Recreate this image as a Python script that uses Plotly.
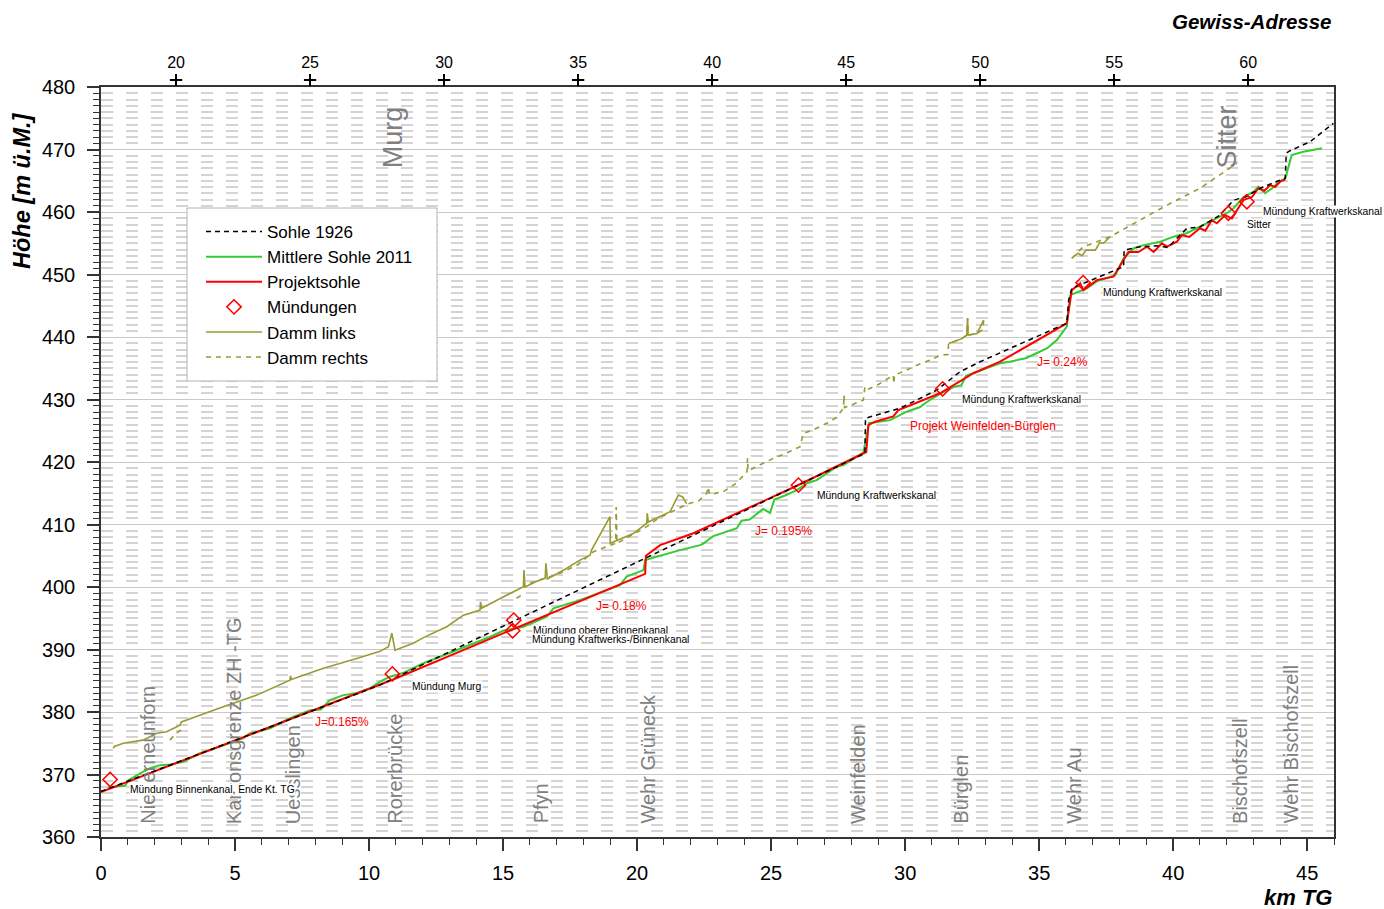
import plotly.graph_objects as go

# ---------------- data (km TG, m ü.M.) ----------------
sohle_1926_km = [0.0, 10.4, 28.5, 28.52, 29.81, 31.18, 32.05, 32.8, 36.03, 36.1, 36.22, 37.28,
                 38.15, 38.17, 38.77, 39.5, 39.8, 40.5, 41.0, 41.75, 42.25, 42.7, 43.25, 43.99,
                 44.18, 44.22, 44.36, 45.11, 45.98]
sohle_1926_h = [367.3, 384.3, 421.4, 427.0, 428.6, 431.5, 434.45, 436.05, 442.2, 445.9, 447.8, 449.65,
                451.25, 453.9, 454.45, 454.6, 454.3, 457.35, 457.6, 459.5, 461.9, 462.4, 463.8, 465.1,
                465.4, 469.4, 469.8, 471.25, 474.2]

sohle_2011_km = [0.25, 0.52, 0.9, 1.02, 1.58, 1.83, 2.2, 2.6, 3.07, 3.69, 4.2, 4.56, 4.94, 5.3, 5.56,
                 5.9, 6.31, 7.05, 7.5, 7.8, 8.2, 8.54, 9.04, 9.54, 10.04, 10.41, 10.78, 11.3, 12.03,
                 13.27, 14.51, 15.0, 15.76, 16.63, 16.88, 17.87, 19.36, 19.61, 20.24, 20.3, 20.73,
                 21.6, 22.35, 22.47, 22.85, 23.72, 23.9, 24.2, 24.7, 24.96, 25.12, 25.5, 25.96, 26.34,
                 26.7, 27.45, 27.7, 28.44, 28.65, 29.44, 30.06, 30.56, 30.81, 31.3, 31.8, 32.1, 32.27,
                 33.05, 33.54, 33.9, 34.5, 34.9, 35.3, 35.66, 36.03, 36.16, 36.34, 36.78, 37.15, 37.84,
                 38.15, 38.53, 38.9, 39.52, 40.01, 40.5, 41.0, 41.5, 42.0, 42.25, 42.62, 43.0, 43.18,
                 43.43, 43.74, 43.93, 44.18, 44.42, 44.85, 45.55]
sohle_2011_h = [367.85, 368.05, 368.2, 369.1, 370.45, 371.0, 371.5, 371.6, 372.05, 373.4, 374.1, 374.7,
                375.25, 375.8, 376.6, 376.9, 377.4, 379.0, 379.8, 380.3, 380.4, 381.9, 382.7, 383.0,
                383.8, 384.85, 385.65, 386.3, 387.8, 389.9, 392.0, 393.0, 393.65, 395.25, 396.6, 397.9,
                400.3, 401.65, 402.7, 404.3, 404.85, 405.9, 406.7, 406.95, 408.15, 409.4, 410.6, 410.8,
                412.5, 411.85, 414.0, 414.6, 415.5, 416.6, 417.1, 419.25, 419.5, 421.5, 426.2, 426.7,
                428.05, 428.8, 429.6, 430.9, 432.0, 432.3, 433.8, 435.0, 435.8, 436.05, 436.6, 437.4,
                438.2, 439.5, 441.65, 446.7, 447.0, 447.8, 448.9, 449.9, 452.6, 454.2, 454.7, 455.25,
                456.05, 456.6, 457.65, 458.7, 459.8, 460.6, 462.4, 463.25, 464.05, 463.0, 463.95,
                464.85, 465.3, 469.1, 469.65, 470.2]

projekt_km = [0.0, 10.9, 20.3, 20.33, 20.86, 22.1, 25.96, 28.55, 28.63, 28.88, 29.56, 29.75, 31.3,
              32.55, 33.54, 36.03, 36.22, 36.53, 36.65, 37.15, 37.77, 38.15, 38.33, 38.7, 39.02,
              39.27, 39.58, 39.77, 40.14, 40.33, 40.6, 41.0, 41.2, 41.44, 41.63, 41.94, 42.19, 42.38,
              42.62, 42.94, 43.18, 43.4, 43.62, 43.8, 43.99, 44.18]
projekt_h = [367.2, 385.2, 402.1, 405.0, 406.7, 408.6, 416.2, 421.6, 425.9, 426.45, 427.3, 428.3, 431.0,
             434.2, 436.05, 442.2, 447.5, 448.6, 447.5, 449.1, 449.65, 452.3, 453.6, 453.6, 454.45,
             453.6, 455.0, 454.45, 455.25, 456.3, 456.0, 457.4, 457.0, 458.7, 458.2, 459.5, 458.95,
             460.3, 461.9, 462.4, 463.8, 463.4, 464.3, 464.0, 464.85, 465.2]

muendung_km = [0.34, 10.87, 15.4, 15.36, 26.02, 31.4, 36.64, 42.06, 42.75]
muendung_h = [369.2, 386.1, 394.7, 393.0, 416.3, 431.7, 448.7, 459.8, 461.65]

damm_links_km = [0.46, 0.5, 0.83, 1.57, 2.08, 2.45, 2.95, 3.0, 4.56, 5.81, 7.05, 7.07, 7.1, 8.3, 9.54,
                 10.41, 10.72, 10.85, 10.97, 11.65, 12.03, 12.9, 13.52, 14.14, 14.16, 14.2, 15.0,
                 15.39, 15.76, 15.78, 15.82, 16.2, 16.57, 16.6, 16.65, 17.3, 17.87, 18.25, 18.3, 18.99,
                 19.0, 19.86, 20.36, 20.38, 20.42, 21.23, 21.54, 21.7, 21.85,
                 None, 31.62, 32.1, 32.3, 32.33, 32.35, 32.68, 32.93,
                 None, 36.22, 36.45, 36.6, 36.75, 37.1, 37.25, 37.4, 37.65]
damm_links_h = [374.2, 374.5, 375.0, 375.5, 376.6, 376.85, 377.9, 378.4, 380.85, 382.7, 385.1, 385.8,
                385.2, 387.0, 388.55, 389.7, 390.45, 392.6, 389.9, 391.0, 391.9, 393.65, 395.5, 396.3,
                397.6, 396.6, 398.4, 399.25, 400.05, 402.7, 400.0, 400.8, 401.4, 403.8, 401.3, 402.8,
                404.3, 405.1, 405.9, 411.25, 407.0, 408.55, 410.2, 411.8, 410.4, 412.05, 414.7, 414.4,
                413.35,
                None, 438.95, 439.7, 440.3, 443.0, 440.3, 440.55, 442.7,
                None, 452.6, 453.4, 453.0, 453.9, 453.9, 455.1, 455.0, 456.05]

damm_rechts_km = [2.57, 2.8, 2.95, 3.01,
                  None, 15.5, 15.8,
                  None, 16.0, 17.13, 17.8, 18.37, 19.2, 19.22, 19.25, 20.36, 20.8, 21.9, 22.3, 22.6,
                  22.65, 22.7, 23.22, 23.7, 24.1, 24.12, 24.14, 24.6, 25.09, 25.5, 26.08, 26.2, 26.6,
                  27.08, 27.4, 27.7, 27.72, 27.74, 28.1, 28.44, 28.5, 28.6, 29.0, 29.56, 29.58, 29.6,
                  30.0, 30.44, 31.0, 31.31, 31.6, 31.62, 32.1, 32.3, 32.33, 32.35, 32.68, 32.9, 32.93,
                  None, 36.22, 36.65, 37.65, 38.53, 39.77, 41.0, 42.38]
damm_rechts_h = [375.5, 376.6, 377.0, 377.65,
                 None, 398.2, 399.0,
                 None, 400.6, 402.2, 403.6, 405.65, 407.0, 412.8, 407.0, 409.65, 411.0, 413.3, 413.8,
                 415.0, 416.0, 414.8, 415.25, 416.6, 418.45, 420.6, 418.6, 419.6, 420.6, 421.3, 422.45,
                 424.55, 425.2, 426.2, 427.0, 428.6, 430.7, 428.7, 429.3, 429.9, 432.05, 431.6, 432.4,
                 433.9, 432.5, 433.9, 434.6, 435.5, 436.4, 437.1, 437.2, 438.95, 439.7, 440.3, 443.0,
                 440.3, 440.55, 441.2, 442.7,
                 None, 452.6, 454.45, 456.05, 458.2, 461.1, 463.8, 467.8]

# place names along the river (km TG)
orte = ["Niederneunforn", "Kantonsgrenze ZH -TG", "Uesslingen", "Rorerbrücke", "Pfyn",
        "Wehr Grüneck", "Weinfelden", "Bürglen", "Wehr Au", "Bischofszell", "Wehr Bischofszell"]
orte_km = [1.75, 4.96, 7.16, 10.97, 16.4, 20.4, 28.25, 32.1, 36.3, 42.5, 44.4]

# tributaries written at the top
zufluesse = ["Murg", "Sitter"]
zufluesse_km = [10.9, 42.0]

# black notes: text, km, height
notizen = ["Mündung Binnenkanal, Ende Kt. TG", "Mündung Murg", "Mündung oberer Binnenkanal",
           "Mündung Kraftwerks-/Binnenkanal", "Mündung Kraftwerkskanal", "Mündung Kraftwerkskanal",
           "Mündung Kraftwerkskanal", "Sitter", "Mündung Kraftwerkskanal"]
notizen_km = [1.045, 11.55, 16.07, 16.03, 26.68, 32.09, 37.34, 42.72, 43.33]
notizen_h = [367.68, 384.16, 393.12, 391.63, 414.72, 430.03, 447.09, 458.08, 460.05]

# red notes (gradients of the project bed)
gefaelle = ["J=0.165%", "J= 0.18%", "J= 0.195%", "Projekt Weinfelden-Bürglen", "J= 0.24%"]
gefaelle_km = [7.9, 18.4, 24.34, 30.12, 34.85]
gefaelle_h = [378.45, 396.96, 408.96, 425.76, 436.05]

# upper kilometre scale
km_oben = [20, 25, 30, 35, 40, 45, 50, 55, 60]
km_oben_offset = 17.2

X_RANGE = [0, 46]
Y_RANGE = [360, 480]

FONT = "Arial, Liberation Sans, sans-serif"
OLIVE = "#9a9a34"

fig = go.Figure()

fig.add_trace(go.Scatter(x=damm_rechts_km, y=damm_rechts_h, name="Damm rechts", mode="lines",
                         line=dict(color=OLIVE, width=1.6, dash="5px,5px"), legendrank=6,
                         connectgaps=False))
fig.add_trace(go.Scatter(x=damm_links_km, y=damm_links_h, name="Damm links", mode="lines",
                         line=dict(color=OLIVE, width=1.6), legendrank=5, connectgaps=False))
fig.add_trace(go.Scatter(x=sohle_2011_km, y=sohle_2011_h, name="Mittlere Sohle 2011", mode="lines",
                         line=dict(color="#33cc33", width=2), legendrank=2))
fig.add_trace(go.Scatter(x=projekt_km, y=projekt_h, name="Projektsohle", mode="lines",
                         line=dict(color="#ff0000", width=2), legendrank=3))
fig.add_trace(go.Scatter(x=sohle_1926_km, y=sohle_1926_h, name="Sohle 1926", mode="lines",
                         line=dict(color="#000000", width=1.5, dash="5px,4px"), legendrank=1))
fig.add_trace(go.Scatter(x=muendung_km, y=muendung_h, name="Mündungen", mode="markers",
                         marker=dict(symbol="diamond-open", size=11, color="#ff0000",
                                     line=dict(width=1.5, color="#ff0000")),
                         legendrank=4))

# an (empty) trace on the upper scale so that xaxis2 is shown
fig.add_trace(go.Scatter(x=[km_oben[0]], y=[None], xaxis="x2", yaxis="y", mode="lines",
                         showlegend=False, hoverinfo="skip"))

shapes = []
# horizontal strokes completing the "+" marks of the upper kilometre scale
for v in km_oben:
    shapes.append(dict(type="line", xref="x2", yref="paper", x0=v - 0.23, x1=v + 0.23,
                       y0=1 + 7.0 / 750, y1=1 + 7.0 / 750, line=dict(color="#000000", width=2)))
# legend frame
shapes.append(dict(type="rect", xref="paper", yref="paper", layer="above",
                   x0=(187 - 101) / 1233, x1=(437 - 101) / 1233,
                   y0=(837 - 381) / 750, y1=(837 - 208) / 750,
                   fillcolor="#ffffff", line=dict(color="#b4b4b4", width=1)))

annotations = []
for name, km in zip(orte, orte_km):
    annotations.append(dict(x=km, y=361.8, text=name, textangle=-90, showarrow=False,
                            xanchor="center", yanchor="bottom",
                            font=dict(family=FONT, size=20, color="#808080")))
for name, km in zip(zufluesse, zufluesse_km):
    annotations.append(dict(x=km, y=466.7, text=name, textangle=-90, showarrow=False,
                            xanchor="center", yanchor="bottom",
                            font=dict(family=FONT, size=27, color="#808080")))
for txt, km, h in zip(notizen, notizen_km, notizen_h):
    annotations.append(dict(x=km, y=h, text=txt, showarrow=False, xanchor="left", yanchor="middle",
                            bgcolor="#ffffff", borderpad=0,
                            font=dict(family=FONT, size=10.3, color="#000000")))
for txt, km, h in zip(gefaelle, gefaelle_km, gefaelle_h):
    annotations.append(dict(x=km, y=h, text=txt, showarrow=False, xanchor="left", yanchor="middle",
                            font=dict(family=FONT, size=12, color="#ff0000")))

annotations.append(dict(xref="paper", yref="paper", x=-0.0645, y=0.862, text="<b><i>Höhe [m ü.M.]</i></b>",
                        textangle=-90, showarrow=False, xanchor="center", yanchor="middle",
                        font=dict(family=FONT, size=23.5, color="#000000")))
annotations.append(dict(xref="paper", yref="paper", x=1.0, y=-0.08, text="<b><i>km TG</i></b>",
                        showarrow=False, xanchor="right", yanchor="middle",
                        font=dict(family=FONT, size=22, color="#000000")))
annotations.append(dict(xref="paper", yref="paper", x=1.0, y=1.0875, text="<b><i>Gewiss-Adresse</i></b>",
                        showarrow=False, xanchor="right", yanchor="middle",
                        font=dict(family=FONT, size=20.5, color="#000000")))

fig.update_layout(
    width=1384, height=909,
    margin=dict(l=101, r=50, t=87, b=72),
    paper_bgcolor="#ffffff", plot_bgcolor="#ffffff",
    font=dict(family=FONT, color="#000000"),
    showlegend=True,
    legend=dict(x=(201 - 101) / 1233, y=(837 - 214) / 750, xanchor="left", yanchor="top",
                bgcolor="rgba(0,0,0,0)", borderwidth=0, font=dict(family=FONT, size=17),
                itemwidth=56, tracegroupgap=0),
    annotations=annotations,
    shapes=shapes,
    xaxis=dict(range=X_RANGE, showgrid=False, zeroline=False, showline=True, mirror=True,
               linecolor="#333333", linewidth=1.5, tick0=0, dtick=5, ticks="outside", ticklen=12,
               tickwidth=1.5, tickcolor="#333333", ticklabelstandoff=5,
               tickfont=dict(family=FONT, size=20),
               minor=dict(dtick=1, ticks="outside", ticklen=6, tickwidth=1, tickcolor="#333333")),
    xaxis2=dict(range=[X_RANGE[0] + km_oben_offset, X_RANGE[1] + km_oben_offset], overlaying="x",
                side="top", showgrid=False, zeroline=False, showline=False, tickvals=km_oben,
                ticks="outside", ticklen=12, tickwidth=2, tickcolor="#000000",
                ticklabelstandoff=0, tickfont=dict(family=FONT, size=16)),
    yaxis=dict(range=Y_RANGE, zeroline=False, showline=True, mirror=True, linecolor="#333333",
               linewidth=1.5, tick0=360, dtick=10, ticks="outside", ticklen=12, tickwidth=1.5,
               tickcolor="#333333", ticklabelstandoff=8, tickfont=dict(family=FONT, size=20),
               showgrid=True, gridcolor="#c8c8c8", gridwidth=1.2,
               minor=dict(dtick=1, ticks="outside", ticklen=6, tickwidth=1, tickcolor="#333333",
                          showgrid=True, gridcolor="#d4d4d4", gridwidth=2, griddash="12px,13px")),
)

fig.write_html("out.html")
